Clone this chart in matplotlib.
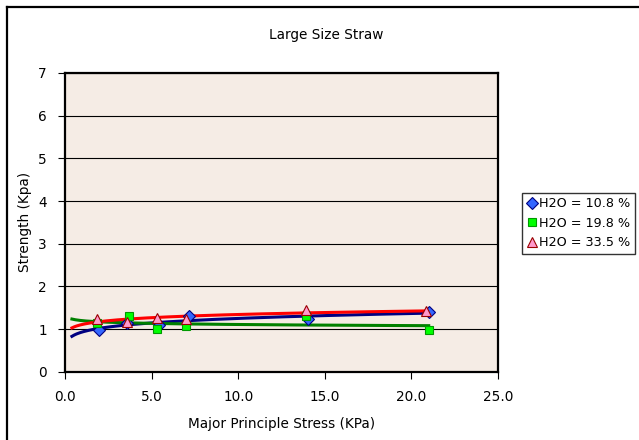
import numpy as np
import matplotlib
matplotlib.use("Agg")
import matplotlib.pyplot as plt
from matplotlib.lines import Line2D

plt.rcParams['font.family'] = ['DejaVu Sans']
plt.rcParams['font.size'] = 9.8

# Daten
x_108 = [1.96, 3.6, 5.44, 7.17, 14.04, 21.0]
y_108 = [0.98, 1.15, 1.10, 1.30, 1.23, 1.39]

x_198 = [1.87, 3.67, 5.33, 7.0, 13.9, 21.0]
y_198 = [1.13, 1.30, 1.00, 1.08, 1.30, 0.97]

x_335 = [1.83, 3.56, 5.29, 6.96, 13.9, 20.87]
y_335 = [1.23, 1.17, 1.27, 1.23, 1.45, 1.43]

labels = ["H2O = 10.8 %", "H2O = 19.8 %", "H2O = 33.5 %"]

W, H = 639, 440
fig = plt.figure(figsize=(W / 100, H / 100), dpi=100)

# Diagrammfläche
ax = fig.add_axes([65 / W, (H - 371.7) / H, (498 - 65) / W, (371.7 - 73) / H])
ax.set_facecolor('#F5ECE5')
ax.set_xlim(0, 25)
ax.set_ylim(0, 7)
ax.set_xticks(np.arange(0, 26, 5))
ax.set_xticklabels([f"{v:.1f}" for v in np.arange(0, 26, 5)])
ax.set_yticks(range(0, 8))
ax.yaxis.grid(True, color='black', linewidth=0.8)
ax.set_axisbelow(True)
for s in ax.spines.values():
    s.set_linewidth(1.6)
    s.set_color('black')
ax.tick_params(direction='out', length=5, width=0.8, pad=8)

# Power-Trendlinien wie in Excel
def power_fit(x, y):
    b, lna = np.polyfit(np.log(x), np.log(y), 1)
    return np.exp(lna), b

xs = np.linspace(0.4, 21.0, 300)
series = [
    (x_108, y_108, '#000080', 'D', '#3366FF', '#000080', 6.5),
    (x_198, y_198, '#008000', 's', '#00FF00', '#009900', 6),
    (x_335, y_335, '#FF0000', '^', '#FF99CC', '#990000', 7.5),
]
handles = []
for (x, y, lc, m, fc, ec, ms), lab in zip(series, labels):
    a, b = power_fit(np.array(x), np.array(y))
    ax.plot(xs, a * xs ** b, color=lc, linewidth=2.2, zorder=3)
for (x, y, lc, m, fc, ec, ms), lab in zip(series, labels):
    h, = ax.plot(x, y, linestyle='none', marker=m, markersize=ms,
                 markerfacecolor=fc, markeredgecolor=ec, markeredgewidth=0.8,
                 zorder=4, label=lab)
    handles.append(h)

ax.set_xlabel("Major Principle Stress (KPa)")
ax.xaxis.set_label_coords(0.5, -(417 - 371.7) / (371.7 - 73))
ax.set_ylabel("Strength (Kpa)")
ax.yaxis.set_label_coords(-(65 - 32) / (498 - 65), 0.5)

fig.text(326 / W, 1 - 35 / H, "Large Size Straw", ha='center', va='center')

leg = fig.legend(handles=handles, loc='upper left', fontsize=9.2,
                 bbox_to_anchor=(522 / W, 1 - 193 / H), borderaxespad=0,
                 frameon=True, fancybox=False, handlelength=0.8,
                 handletextpad=0.2, borderpad=0.35, labelspacing=0.5,
                 markerscale=0.9)
leg.get_frame().set_edgecolor('black')
leg.get_frame().set_linewidth(1.0)

# äußerer Rahmen (nur links und oben sichtbar)
fig.add_artist(Line2D([7 / W, 7 / W], [0, 1 - 7 / H], color='black', linewidth=1.6))
fig.add_artist(Line2D([7 / W, 1], [1 - 7 / H, 1 - 7 / H], color='black', linewidth=1.6))

fig.savefig("out.png", dpi=100)
